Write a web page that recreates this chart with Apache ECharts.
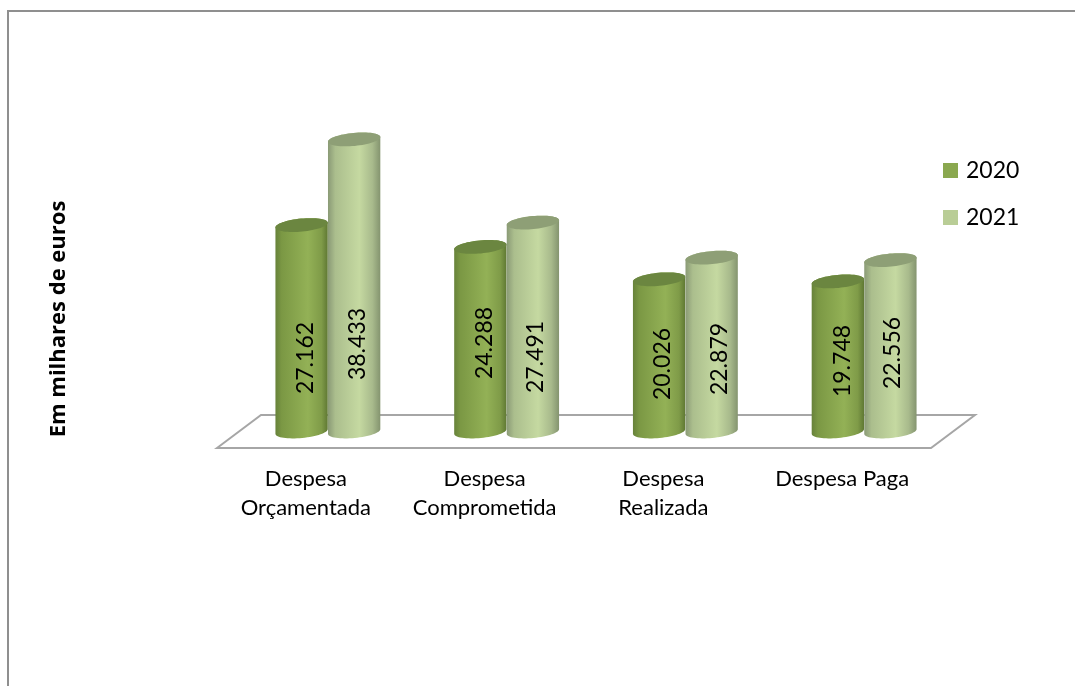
<!DOCTYPE html>
<html><head><meta charset="utf-8">
<style>html,body{margin:0;padding:0;background:#fff}#c{width:1075px;height:686px}</style>
<script src="https://cdn.jsdelivr.net/npm/echarts@6/dist/echarts.min.js"></script>
</head><body><div id="c"></div>
<script>
const categories = ['Despesa\nOrçamentada', 'Despesa\nComprometida', 'Despesa\nRealizada', 'Despesa Paga'];
const seriesNames = ['2020', '2021'];
const values2020 = [27162, 24288, 20026, 19748];
const values2021 = [38433, 27491, 22879, 22556];
const axisTitle = 'Em milhares de euros';

// label placement (pixels)
const labelY2020 = [358, 343, 364, 361];
const labelY2021 = [344, 357, 359, 353];
const labelDx2020 = [4, 4, 3, 5];
const labelDx2021 = [3, 3, 8, 2];

const FONT = 'Lato';
const DEPTH_X = 22, DEPTH_Y = 16.5, TILT = -5.4 * Math.PI / 180;

function ellipsePts(cx, cy, rx, ry, t0, t1, n) {
  const pts = [];
  for (let i = 0; i <= n; i++) {
    const t = t0 + (t1 - t0) * i / n;
    pts.push([
      cx + rx * Math.cos(t) * Math.cos(TILT) - ry * Math.sin(t) * Math.sin(TILT),
      cy + rx * Math.cos(t) * Math.sin(TILT) + ry * Math.sin(t) * Math.cos(TILT)
    ]);
  }
  return pts;
}

function grad(stops) {
  return new echarts.graphic.LinearGradient(0, 0, 1, 0,
    stops.map(s => ({ offset: s[0], color: s[1] })));
}

function cylinder(sign, stops, topColor, labelY, labelDx) {
  return function (params, api) {
    const i = api.value(0), v = api.value(1);
    const band = api.size([1, 0])[0];
    const rx = band * 0.147, ry = 6.5;
    const base = api.coord([i, 0]), top = api.coord([i, v]);
    const cx = base[0] + DEPTH_X + sign * rx;
    const yb = base[1] - DEPTH_Y, yt = top[1] - DEPTH_Y;
    const body = ellipsePts(cx, yb, rx, ry, 0, Math.PI, 32)
      .concat(ellipsePts(cx, yt, rx, ry, Math.PI, 2 * Math.PI, 32));
    return {
      type: 'group',
      children: [
        { type: 'polygon', shape: { points: body }, style: { fill: grad(stops) } },
        { type: 'polygon', shape: { points: ellipsePts(cx, yt, rx, ry, 0, 2 * Math.PI, 64) }, style: { fill: topColor } },
        { type: 'text', x: cx + labelDx[i], y: labelY[i], rotation: Math.PI / 2,
          style: { text: (v / 1000).toFixed(3), fill: '#000', font: '23px ' + FONT, align: 'center', verticalAlign: 'middle' } }
      ]
    };
  };
}

const stops2020 = [[0, '#67823a'], [0.12, '#7b9844'], [0.62, '#93b156'], [0.88, '#7f9b48'], [1, '#5f7833']];
const stops2021 = [[0, '#8a9a76'], [0.14, '#abbe8d'], [0.6, '#c5d9a1'], [0.85, '#a8ba8c'], [1, '#84946f']];

const chart = echarts.init(document.getElementById('c'), null, { renderer: 'canvas' });
chart.setOption({
  animation: false,
  backgroundColor: '#fff',
  grid: { left: 216.5, right: 143.5, top: 144, bottom: 238 },
  legend: {
    orient: 'vertical', left: 938, top: 154, itemWidth: 15, itemHeight: 15, itemGap: 24,
    icon: 'rect', data: seriesNames,
    textStyle: { fontFamily: FONT, fontSize: 23, color: '#000', padding: [0, 0, 0, 3] }
  },
  xAxis: {
    type: 'category', data: categories,
    axisLine: { show: false }, axisTick: { show: false },
    axisLabel: { interval: 0, margin: 16, fontFamily: FONT, fontSize: 22, lineHeight: 29, color: '#000' }
  },
  yAxis: { type: 'value', min: 0, max: 40000, show: false },
  graphic: [
    { type: 'polyline', z: 0, shape: { points: [[8, 686], [8, 11], [1075, 11]] }, style: { stroke: '#8f8f8f', lineWidth: 2, fill: null } },
    { type: 'polygon', z: 0, shape: { points: [[217, 448], [261, 415], [975, 415], [931, 448]] }, style: { fill: '#fff', stroke: '#a6a6a6', lineWidth: 2 } },
    { type: 'text', z: 5, x: 59, y: 319, rotation: Math.PI / 2,
      style: { text: axisTitle, fill: '#000', font: 'bold 22px "Open Sans"', align: 'center', verticalAlign: 'middle' } }
  ],
  series: [
    { name: seriesNames[0], type: 'custom', clip: false, itemStyle: { color: '#8aa84f' },
      encode: { x: 0, y: 1 }, data: values2020.map((v, i) => [i, v]),
      renderItem: cylinder(-1, stops2020, '#6b8640', labelY2020, labelDx2020) },
    { name: seriesNames[1], type: 'custom', clip: false, itemStyle: { color: '#b9cd96' },
      encode: { x: 0, y: 1 }, data: values2021.map((v, i) => [i, v]),
      renderItem: cylinder(1, stops2021, '#8e9f76', labelY2021, labelDx2021) }
  ]
});
</script></body></html>
